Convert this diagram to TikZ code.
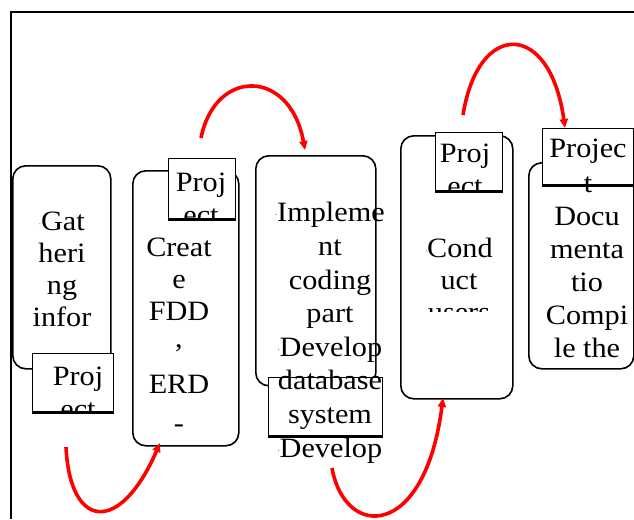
\documentclass[tikz,border=0pt]{standalone}
\usepackage{fontspec}
\setmainfont{Liberation Serif}[FakeStretch=1.08]
\usetikzlibrary{arrows.meta}
% small raised dot that leads some lines
\newcommand\lead{\raisebox{6pt}{\fontsize{7}{7}\selectfont .}}

\begin{document}
\begin{tikzpicture}[x=1pt,y=-1pt,
  bigbox/.style={draw, line width=1.6pt, rounded corners=13pt, fill=white,
                 anchor=north west, inner sep=0pt},
  tab/.style={draw, line width=1.3pt, fill=white, anchor=north west, inner sep=0pt},
  % texts are placed by the baseline of their last line
  txt/.style={align=center, inner sep=0pt, anchor=base,
              font=\fontsize{28}{32}\selectfont},
  tabtxt/.style={txt, font=\fontsize{28}{33}\selectfont},
  flow/.style={red, line width=3.6pt, -{Triangle[length=9pt,width=8pt]}}]
\useasboundingbox (0,0) rectangle (634,519);

% outer frame (top and left edges)
\draw[line width=1.5pt] (634,12) -- (11,12) -- (11,519);

% stage boxes with their tabs
\node[bigbox, minimum width=98pt,  minimum height=203pt] (b1) at (12,165) {};
\node[tab,    minimum width=81pt,  minimum height=58pt]  (t1) at (32,353) {};
\node[bigbox, minimum width=106pt, minimum height=275pt] (b2) at (132,170) {};
\node[tab,    minimum width=67pt,  minimum height=60pt]  (t2) at (168,158) {};
\node[bigbox, minimum width=120pt, minimum height=230pt] (b3) at (255,155) {};
\node[tab,    minimum width=114pt, minimum height=58pt]  (t3) at (268,377) {};
\node[bigbox, minimum width=112pt, minimum height=263pt] (b4) at (400,135) {};
\node[tab,    minimum width=67pt,  minimum height=58pt]  (t4) at (435,132) {};
\node[bigbox, minimum width=105pt, minimum height=206pt] (b5) at (528,162) {};
\node[tab,    minimum width=91pt,  minimum height=56pt]  (t5) at (542,128) {};

% stage texts
\node[txt] (x1) at (62,326) {\lead Gat\\heri\\ng\\infor};
\node[txt] (x2) at (179,432) {Creat\\e\\FDD\\[-5pt],\\[14pt]ERD\\[7pt]-};
\node[txt, font=\fontsize{28}{33.6}\selectfont] (x3) at (330,457)
  {\lead Impleme\\nt\\coding\\part\\\lead Develop\\database\\system\\\lead Develop};
\begin{scope}
  \clip (400,140) rectangle (512,311);
  \node[txt] (x4) at (459,321) {\lead Cond\\uct\\users};
\end{scope}
\node[txt, font=\fontsize{28}{33}\selectfont] (x5) at (587,357)
  {Docu\\menta\\tio\\Compi\\le the};

% tab texts
\begin{scope}
  \clip (t1.north west) rectangle ([yshift=1pt]t1.south east);
  \node[tabtxt] (p1) at (78,418) {Proj\\ect};
\end{scope}
\begin{scope}
  \clip (t2.north west) rectangle ([yshift=1pt]t2.south east);
  \node[tabtxt] (p2) at (201,224) {Proj\\ect};
\end{scope}
\begin{scope}
  \clip (t4.north west) rectangle ([yshift=1pt]t4.south east);
  \node[tabtxt] (p4) at (465,195) {Proj\\ect};
\end{scope}
\node[txt, font=\fontsize{28}{35}\selectfont] (p5) at (588,192) {Projec\\t};

% heavier lower edge on each tab
\foreach \t in {t1,t2,t3,t4,t5}
  \draw[line width=3pt] (\t.south west) -- (\t.south east);

% flow arrows
\coordinate (a1s) at (66,447);  \coordinate (a1e) at (160,443);
\coordinate (a2s) at (201,138); \coordinate (a2e) at (305,150);
\coordinate (a3s) at (332,468); \coordinate (a3e) at (443,398);
\coordinate (a4s) at (463,115); \coordinate (a4e) at (565,128);
\draw[flow] (a1s) .. controls (70,530) and (120,535) .. (a1e);
\draw[flow] (a2s) .. controls (215,68) and (290,68) .. (a2e);
\draw[flow] (a3s) .. controls (345,540) and (425,540) .. (a3e);
\draw[flow] (a4s) .. controls (478,20) and (550,20) .. (a4e);
\end{tikzpicture}
\end{document}
